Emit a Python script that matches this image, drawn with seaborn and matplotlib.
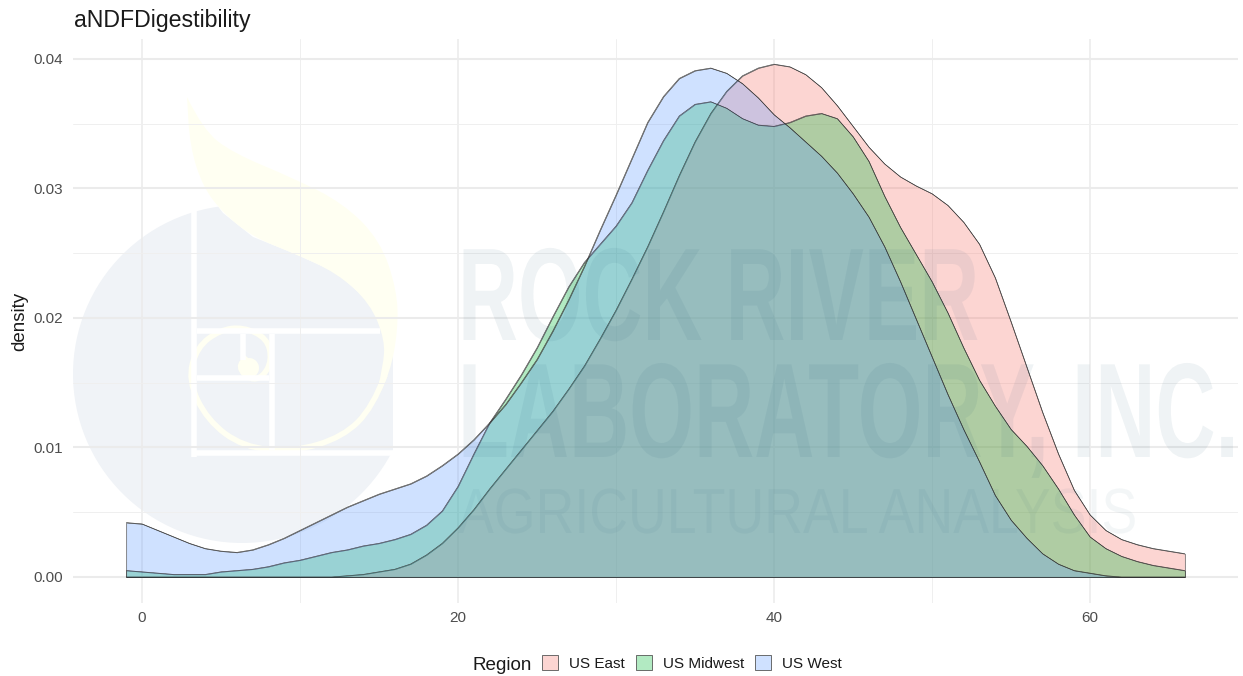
"""Density curves of aNDFDigestibility by region, over the lab logo watermark."""
import matplotlib.pyplot as plt
from matplotlib.patches import Circle, PathPatch, Patch, Polygon, Rectangle
from matplotlib.patheffects import AbstractPathEffect
from matplotlib.path import Path
from matplotlib.transforms import Affine2D
import pandas as pd
import seaborn as sns

REGIONS = ["US East", "US Midwest", "US West"]
COLORS = ["#F8766D", "#00BA38", "#619CFF"]

digestibility = [-1, 0, 1, 2, 3, 4, 5, 6, 7, 8, 9, 10, 11, 12, 13, 14, 15, 16, 17, 18, 19, 20, 21, 22, 23, 24,
                 25, 26, 27, 28, 29, 30, 31, 32, 33, 34, 35, 36, 37, 38, 39, 40, 41, 42, 43, 44, 45, 46, 47,
                 48, 49, 50, 51, 52, 53, 54, 55, 56, 57, 58, 59, 60, 61, 62, 63, 64, 65, 66]

east = [0, 0, 0, 0, 0, 0, 0, 0, 0, 0, 0, 0, 0, 0, 0.0001, 0.0002, 0.0004, 0.0006, 0.0010, 0.0017, 0.0026,
        0.0038, 0.0052, 0.0068, 0.0083, 0.0098, 0.0113, 0.0128, 0.0145, 0.0163, 0.0184, 0.0206, 0.0230, 0.0255,
        0.0282, 0.0310, 0.0336, 0.0358, 0.0375, 0.0387, 0.0393, 0.0396, 0.0394, 0.0388, 0.0378, 0.0364, 0.0348,
        0.0332, 0.0319, 0.0309, 0.0302, 0.0296, 0.0287, 0.0274, 0.0257, 0.0231, 0.0197, 0.0162, 0.0127, 0.0095,
        0.0067, 0.0048, 0.0036, 0.0029, 0.0025, 0.0022, 0.0020, 0.0018]

midwest = [0.0005, 0.0004, 0.0003, 0.0002, 0.0002, 0.0002, 0.0004, 0.0005, 0.0006, 0.0008, 0.0011, 0.0013, 0.0016,
           0.0019, 0.0021, 0.0024, 0.0026, 0.0029, 0.0033, 0.0040, 0.0051, 0.0070, 0.0095, 0.0119, 0.0137, 0.0156,
           0.0177, 0.0201, 0.0224, 0.0243, 0.0257, 0.0271, 0.0289, 0.0314, 0.0337, 0.0356, 0.0365, 0.0367, 0.0362,
           0.0354, 0.0349, 0.0348, 0.0351, 0.0356, 0.0358, 0.0354, 0.0340, 0.0321, 0.0294, 0.0270, 0.0249, 0.0228,
           0.0204, 0.0177, 0.0152, 0.0132, 0.0114, 0.0101, 0.0086, 0.0068, 0.0048, 0.0031, 0.0022, 0.0016, 0.0012,
           0.0009, 0.0007, 0.0005]

west = [0.0042, 0.0041, 0.0036, 0.0031, 0.0026, 0.0022, 0.0020, 0.0019, 0.0021, 0.0025, 0.0030, 0.0036, 0.0042,
        0.0048, 0.0054, 0.0059, 0.0064, 0.0068, 0.0072, 0.0078, 0.0086, 0.0095, 0.0106, 0.0119, 0.0133, 0.0150,
        0.0168, 0.0190, 0.0214, 0.0240, 0.0268, 0.0295, 0.0323, 0.0351, 0.0371, 0.0385, 0.0391, 0.0393, 0.0389,
        0.0381, 0.0370, 0.0357, 0.0347, 0.0336, 0.0325, 0.0312, 0.0296, 0.0278, 0.0255, 0.0228, 0.0199, 0.0170,
        0.0141, 0.0114, 0.0089, 0.0063, 0.0044, 0.0030, 0.0018, 0.0010, 0.0005, 0.0003, 0.0001, 0, 0, 0, 0, 0]


class Stretch(AbstractPathEffect):
    # glyphs stay real text, only drawn taller, since no condensed font is installed
    def __init__(self, sy):
        super().__init__()
        self.sy = sy

    def draw_path(self, renderer, gc, tpath, affine, rgbFace=None):
        renderer.draw_path(gc, tpath, Affine2D().scale(1, self.sy) + affine, rgbFace)


def fitted_text(ax, text, left, right, baseline, cap_px, **kwargs):
    t = ax.text(left, baseline, text, fontsize=40, ha="left", va="baseline", **kwargs)
    width = t.get_window_extent(ax.figure.canvas.get_renderer()).width
    size = 40 * (right - left) / width
    t.set_fontsize(size)
    t.set_path_effects([Stretch(cap_px / (0.72 * size * 100 / 72))])


def smooth(points):
    # quadratic curve through the midpoints of the given outline
    mids = [((a[0] + b[0]) / 2, (a[1] + b[1]) / 2) for a, b in zip(points, points[1:])]
    verts = [points[0]]
    codes = [Path.MOVETO]
    for ctrl, mid in zip(points[1:], mids[1:]):
        verts += [ctrl, mid]
        codes += [Path.CURVE3, Path.CURVE3]
    verts += [points[-1]]
    codes += [Path.LINETO]
    return Path(verts, codes)


def draw_logo(ax):
    ax.add_patch(Circle((242, 374), 169, color="#F0F3F7", lw=0))
    # the disc is cut off above the flame and right of the square
    ax.add_patch(Polygon([(203, 187), (223, 213), (253, 237), (293, 253), (337, 273), (370, 303), (393, 340),
                          (393, 150), (203, 150)], color="white", lw=0))
    ax.add_patch(Rectangle((393, 200), 40, 260, color="white", lw=0))
    flame = [(187, 97), (203, 130), (233, 153), (293, 178), (343, 203), (380, 240), (397, 290), (398, 330),
             (390, 373), (373, 407), (383, 367), (385, 340), (370, 303), (337, 273), (293, 253), (253, 237),
             (223, 213), (203, 187), (190, 147), (187, 97)]
    ax.add_patch(PathPatch(smooth(flame), color="#FFFFF2", lw=0))
    for x0, y0, x1, y1 in [(194.5, 205, 194.5, 457), (192, 453, 393, 453), (197, 331, 380, 331),
                           (272.5, 334, 272.5, 450), (197, 378, 269, 378), (243, 334, 243, 360)]:
        ax.plot([x0, x1], [y0, y1], color="white", lw=4, solid_capstyle="butt")
    spiral = [(385, 375), (373, 407), (343, 437), (293, 452), (243, 447), (207, 420), (188, 380), (197, 347),
              (220, 330), (243, 327), (267, 338), (272, 360), (263, 377), (250, 380), (238, 367), (247, 357)]
    ax.add_patch(PathPatch(smooth(spiral), fill=False, edgecolor="#FFFFF2", lw=4))
    ax.add_patch(Circle((249, 368), 10, color="#FFFFF2", lw=0))


def main():

    df = pd.DataFrame({"value": digestibility, "US East": east, "US Midwest": midwest, "US West": west})
    df = df.melt(id_vars="value", var_name="Region", value_name="density")

    sns.set_theme(style="white")
    plt.rcParams["font.family"] = ["Liberation Sans", "DejaVu Sans"]

    fig = plt.figure(figsize=(12.43, 6.76), dpi=100)

    # logo sits under the plot, lettering on top of it
    back = fig.add_axes([0, 0, 1, 1], zorder=0)
    back.set_xlim(0, 1243)
    back.set_ylim(676, 0)
    back.axis("off")
    draw_logo(back)

    ax = fig.add_axes([73 / 1243, (676 - 603) / 676, (1238 - 73) / 1243, (603 - 39) / 676], zorder=1)
    ax.patch.set_alpha(0)

    for region, color in zip(REGIONS, COLORS):
        part = df[df["Region"] == region]
        ax.fill_between(part["value"], part["density"], 0, facecolor=color + "4D",
                        edgecolor="#333333", lw=0.4, zorder=3)
    sns.lineplot(data=df, x="value", y="density", hue="Region", palette=["#333333"] * 3,
                 estimator=None, sort=False, lw=0.4, legend=False, ax=ax, zorder=3)

    ax.set_xlim(-4.37, 69.37)
    ax.set_ylim(-0.00201, 0.04154)
    ax.set_xticks([0, 20, 40, 60])
    ax.set_xticks([10, 30, 50], minor=True)
    ax.set_yticks([0, 0.01, 0.02, 0.03, 0.04])
    ax.set_yticklabels(["0.00", "0.01", "0.02", "0.03", "0.04"])
    ax.set_yticks([0.005, 0.015, 0.025, 0.035], minor=True)
    ax.grid(True, which="major", axis="y", color="#EBEBEB", lw=1.5)
    ax.grid(True, which="major", axis="x", color="#EBEBEB", lw=1.1)
    ax.grid(True, which="minor", color="#EFEFEF", lw=0.7)
    ax.set_axisbelow(True)
    sns.despine(ax=ax, left=True, bottom=True)
    ax.tick_params(which="both", length=0, labelsize=11, labelcolor="#4D4D4D")
    ax.tick_params(axis="x", pad=6)
    ax.tick_params(axis="y", pad=7)
    ax.set_xlabel("")
    ax.set_ylabel("")

    front = fig.add_axes([0, 0, 1, 1], zorder=2)
    front.set_xlim(0, 1243)
    front.set_ylim(676, 0)
    front.axis("off")
    fitted_text(front, "ROCK RIVER", 458, 978, 340, 95, fontweight="bold", color="#1F5573", alpha=0.07)
    fitted_text(front, "LABORATORY, INC.", 458, 1238, 457, 97, fontweight="bold", color="#1F5573", alpha=0.07)
    fitted_text(front, "AGRICULTURAL ANALYSIS", 458, 1136, 533, 46, color="#1F5573", alpha=0.05)

    front.text(74, 27, "aNDFDigestibility", fontsize=16.7, color="#1A1A1A", ha="left", va="baseline")
    front.text(20, 321, "density", fontsize=13.5, color="#1A1A1A", rotation=90, ha="center", va="center")
    front.text(473, 670, "Region", fontsize=13.6, color="#1A1A1A", ha="left", va="baseline")

    handles = [Patch(facecolor=c + "4D", edgecolor="#555555", lw=0.6, label=r) for r, c in zip(REGIONS, COLORS)]
    fig.legend(handles=handles, ncol=3, frameon=False, fontsize=11, loc="center left",
               bbox_to_anchor=(542 / 1243, (676 - 663) / 676), borderpad=0, borderaxespad=0,
               handlelength=1.05, handleheight=1.05, handletextpad=0.72, columnspacing=0.72,
               labelcolor="#1A1A1A")

    plt.savefig("out.png", dpi=100)


if __name__ == "__main__":
    main()
